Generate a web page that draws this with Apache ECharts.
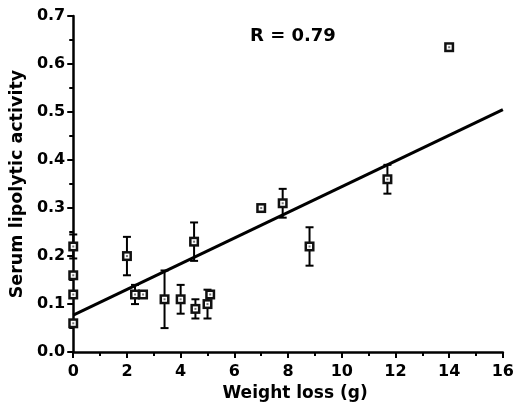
<!DOCTYPE html>
<html>
<head>
<meta charset="utf-8">
<script src="https://cdn.jsdelivr.net/npm/echarts@6/dist/echarts.min.js"></script>
<style>
  html, body { margin: 0; padding: 0; background: #fff; }
  #chart { width: 517px; height: 407px; }
</style>
</head>
<body>
<div id="chart"></div>
<script>
// 数据：体重减轻 (g) 与血清脂解活性
var weightLoss = [0, 0, 0, 0, 2.0, 2.3, 2.6, 3.4, 4.0, 4.55, 4.5, 5.0, 5.1, 7.0, 7.8, 8.8, 11.7, 14.0];
var activity   = [0.22, 0.16, 0.12, 0.06, 0.20, 0.12, 0.12, 0.11, 0.11, 0.09, 0.23, 0.10, 0.12, 0.30, 0.31, 0.22, 0.36, 0.635];
var errorBar   = [0.025, 0, 0, 0, 0.04, 0.02, 0, 0.06, 0.03, 0.02, 0.04, 0.03, 0, 0, 0.03, 0.04, 0.03, 0];

// 回归直线两端
var fitX = [0, 16];
var fitY = [0.077, 0.505];

var xTicks = [0, 2, 4, 6, 8, 10, 12, 14, 16];
var yTicks = ['0.0', '0.1', '0.2', '0.3', '0.4', '0.5', '0.6', '0.7'];

var points = weightLoss.map(function (x, i) {
  return [x, activity[i], errorBar[i]];
});
var fitLine = fitX.map(function (x, i) { return [x, fitY[i]]; });

var chart = echarts.init(document.getElementById('chart'));

// 误差线 + 方形标记
function renderPoint(params, api) {
  var x = api.value(0), y = api.value(1), e = api.value(2);
  var c = api.coord([x, y]);
  var kids = [];
  if (e > 0) {
    var top = api.coord([x, y + e]);
    var bot = api.coord([x, y - e]);
    var st = { stroke: '#000', lineWidth: 2 };
    kids.push({ type: 'line', shape: { x1: c[0], y1: top[1], x2: c[0], y2: bot[1] }, style: st });
    kids.push({ type: 'line', shape: { x1: c[0] - 4, y1: top[1], x2: c[0] + 4, y2: top[1] }, style: st });
    kids.push({ type: 'line', shape: { x1: c[0] - 4, y1: bot[1], x2: c[0] + 4, y2: bot[1] }, style: st });
  }
  kids.push({ type: 'rect', shape: { x: c[0] - 5, y: c[1] - 5, width: 10, height: 10 }, style: { fill: '#111' } });
  kids.push({ type: 'rect', shape: { x: c[0] - 2.5, y: c[1] - 2.5, width: 5, height: 5 }, style: { fill: '#fff' } });
  kids.push({ type: 'rect', shape: { x: c[0] - 1, y: c[1] - 1, width: 2, height: 2 }, style: { fill: '#777' } });
  return { type: 'group', children: kids };
}

var fontName = '"DejaVu Sans", Verdana, sans-serif';
var labelFont = { color: '#000', fontFamily: fontName, fontWeight: 'bold', fontSize: 16 };

var option = {
  backgroundColor: '#fff',
  animation: false,
  grid: { left: 72, right: 11, top: 16, bottom: 54 },
  xAxis: {
    type: 'value',
    min: xTicks[0],
    max: xTicks[xTicks.length - 1],
    interval: 2,
    name: 'Weight loss (g)',
    nameLocation: 'middle',
    nameGap: 29,
    nameTextStyle: { color: '#000', fontFamily: fontName, fontWeight: 'bold', fontSize: 17, padding: [0, 0, 0, 14] },
    axisLine: { show: true, onZero: false, lineStyle: { color: '#000', width: 2.5 } },
    axisTick: { show: true, length: 6, lineStyle: { color: '#000', width: 2 } },
    minorTick: { show: true, splitNumber: 2, length: 4, lineStyle: { color: '#000', width: 2 } },
    axisLabel: Object.assign({ margin: 12 }, labelFont),
    splitLine: { show: false }
  },
  yAxis: {
    type: 'value',
    min: 0,
    max: 0.7,
    interval: 0.1,
    name: 'Serum lipolytic activity',
    nameLocation: 'middle',
    nameGap: 31,
    nameTextStyle: { color: '#000', fontFamily: fontName, fontWeight: 'bold', fontSize: 17.5 },
    axisLine: { show: true, onZero: false, lineStyle: { color: '#000', width: 2.5 } },
    axisTick: { show: true, length: 6, lineStyle: { color: '#000', width: 2 } },
    minorTick: { show: true, splitNumber: 2, length: 4, lineStyle: { color: '#000', width: 2 } },
    axisLabel: Object.assign({
      margin: 8,
      formatter: function (v) { return yTicks[Math.round(v * 10)]; }
    }, labelFont),
    splitLine: { show: false }
  },
  graphic: [{
    type: 'text',
    left: 250,
    top: 27,
    style: { text: 'R = 0.79', fill: '#000', font: 'bold 18px "DejaVu Sans", Verdana, sans-serif' }
  }],
  series: [
    {
      type: 'line',
      data: fitLine,
      symbol: 'none',
      lineStyle: { color: '#000', width: 3 },
      z: 2
    },
    {
      type: 'custom',
      renderItem: renderPoint,
      data: points,
      encode: { x: 0, y: 1 },
      z: 3
    }
  ]
};

chart.setOption(option);
</script>
</body>
</html>
